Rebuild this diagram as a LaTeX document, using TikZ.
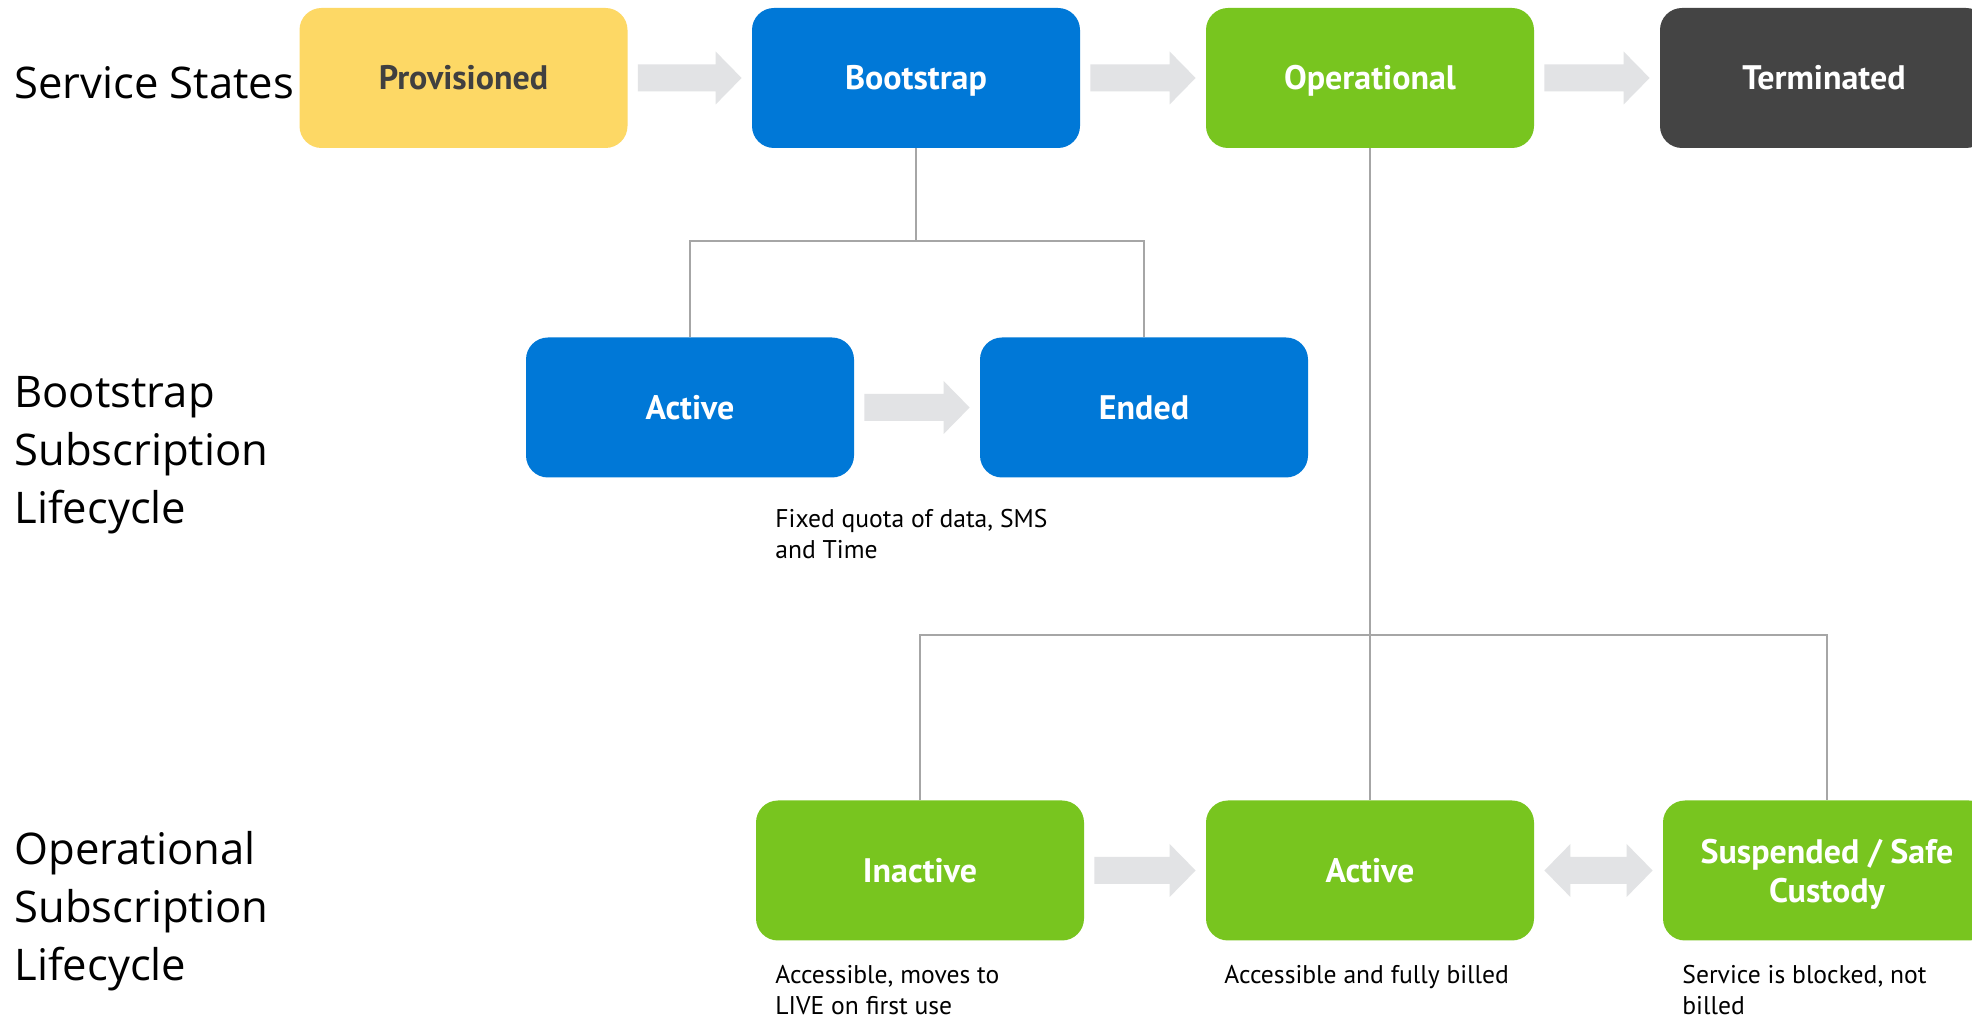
\documentclass[tikz,border=0pt]{standalone}
\usepackage{fontspec}
\setmainfont{PT Sans}
\newfontfamily\labelfont{Open Sans}
\usetikzlibrary{calc}
\definecolor{cyellow}{HTML}{FDD865}
\definecolor{cblue}{HTML}{0078D7}
\definecolor{cgreen}{HTML}{78C51F}
\definecolor{cdark}{HTML}{444444}
\definecolor{arrowgray}{HTML}{E2E3E5}
\definecolor{linegray}{HTML}{A6A6A6}
\definecolor{textdark}{HTML}{404040}
\newcommand\blkarrow[2]{%
  \fill[arrowgray] let \p1=($(#1.east)+(10,0)$), \p2=($(#2.west)+(-10,0)$) in
    (\x1,\y1-6.75pt) -- (\x2-13pt,\y1-6.75pt) -- (\x2-13pt,\y1-13.25pt) -- (\x2,\y1)
    -- (\x2-13pt,\y1+13.25pt) -- (\x2-13pt,\y1+6.75pt) -- (\x1,\y1+6.75pt) -- cycle;}
\newcommand\dblarrow[2]{%
  \fill[arrowgray] let \p1=($(#1.east)+(10,0)$), \p2=($(#2.west)+(-10,0)$) in
    (\x1,\y1) -- (\x1+13pt,\y1+13.25pt) -- (\x1+13pt,\y1+6.75pt) -- (\x2-13pt,\y1+6.75pt)
    -- (\x2-13pt,\y1+13.25pt) -- (\x2,\y1) -- (\x2-13pt,\y1-13.25pt) -- (\x2-13pt,\y1-6.75pt)
    -- (\x1+13pt,\y1-6.75pt) -- (\x1+13pt,\y1-13.25pt) -- cycle;}
\tikzset{
  box/.style={rounded corners=11pt, minimum width=164pt, minimum height=70pt, inner sep=0pt,
    font=\bfseries\fontsize{17}{19.5}\selectfont, text=white, align=center,
    text height=12pt, text depth=0pt},
  twoline/.style={text height={}, text depth={}},
  conn/.style={draw=linegray, line width=1pt},
  rowlabel/.style={anchor=west, inner sep=0pt, align=left, font=\labelfont\fontsize{21.8}{29}\selectfont, text=black},
  desc/.style={anchor=north west, inner sep=0pt, align=left, font=\fontsize{12.8}{15.4}\selectfont, text=black},
}
\begin{document}
\begin{tikzpicture}[x=0.5pt,y=-0.5pt]
\clip (0,0) rectangle (1972,1020);
\fill[white] (0,0) rectangle (1972,1020);
% row labels
\node[rowlabel] (lss) at (14,83) {Service States};
\node[rowlabel] (lbs) at (14,455) {Bootstrap\\Subscription\\Lifecycle};
\node[rowlabel] (los) at (14,911) {Operational\\Subscription\\Lifecycle};
% service states
\node[box, fill=cyellow, text=textdark] (prov) at (463.5,78) {Provisioned};
\node[box, fill=cblue] (boot) at (916,78) {Bootstrap};
\node[box, fill=cgreen] (oper) at (1370,78) {Operational};
\node[box, fill=cdark] (term) at (1824,78) {Terminated};
% bootstrap lifecycle
\node[box, fill=cblue] (bact) at (690,407.5) {Active};
\node[box, fill=cblue] (bend) at (1144,407.5) {Ended};
% operational lifecycle
\node[box, fill=cgreen] (oina) at (920,870.5) {Inactive};
\node[box, fill=cgreen] (oact) at (1370,870.5) {Active};
\node[box, twoline, fill=cgreen] (osus) at (1827,870.5) {\rule{0pt}{16pt}Suspended / Safe\\Custody};
% block arrows
\blkarrow{prov}{boot}
\blkarrow{boot}{oper}
\blkarrow{oper}{term}
\blkarrow{bact}{bend}
\blkarrow{oina}{oact}
\dblarrow{oact}{osus}
% tree connectors
\coordinate (bj) at (916,241);
\coordinate (oj) at (1370,635);
\draw[conn] (boot.south) -- (bj);
\draw[conn] (bact.north) -- (bact.north |- bj) -- (bend.north |- bj) -- (bend.north);
\draw[conn] (oper.south) -- (oact.north);
\draw[conn] (oina.north) -- (oina.north |- oj) -- (osus.north |- oj) -- (osus.north);
% descriptions
\node[desc] (d1) at (775,509) {Fixed quota of data, SMS\\and Time};
\node[desc] (d2) at (775,965) {Accessible, moves to\\LIVE on first use};
\node[desc] (d3) at (1224,965) {Accessible and fully billed};
\node[desc] (d4) at (1682,965) {Service is blocked, not\\billed};
\end{tikzpicture}
\end{document}
